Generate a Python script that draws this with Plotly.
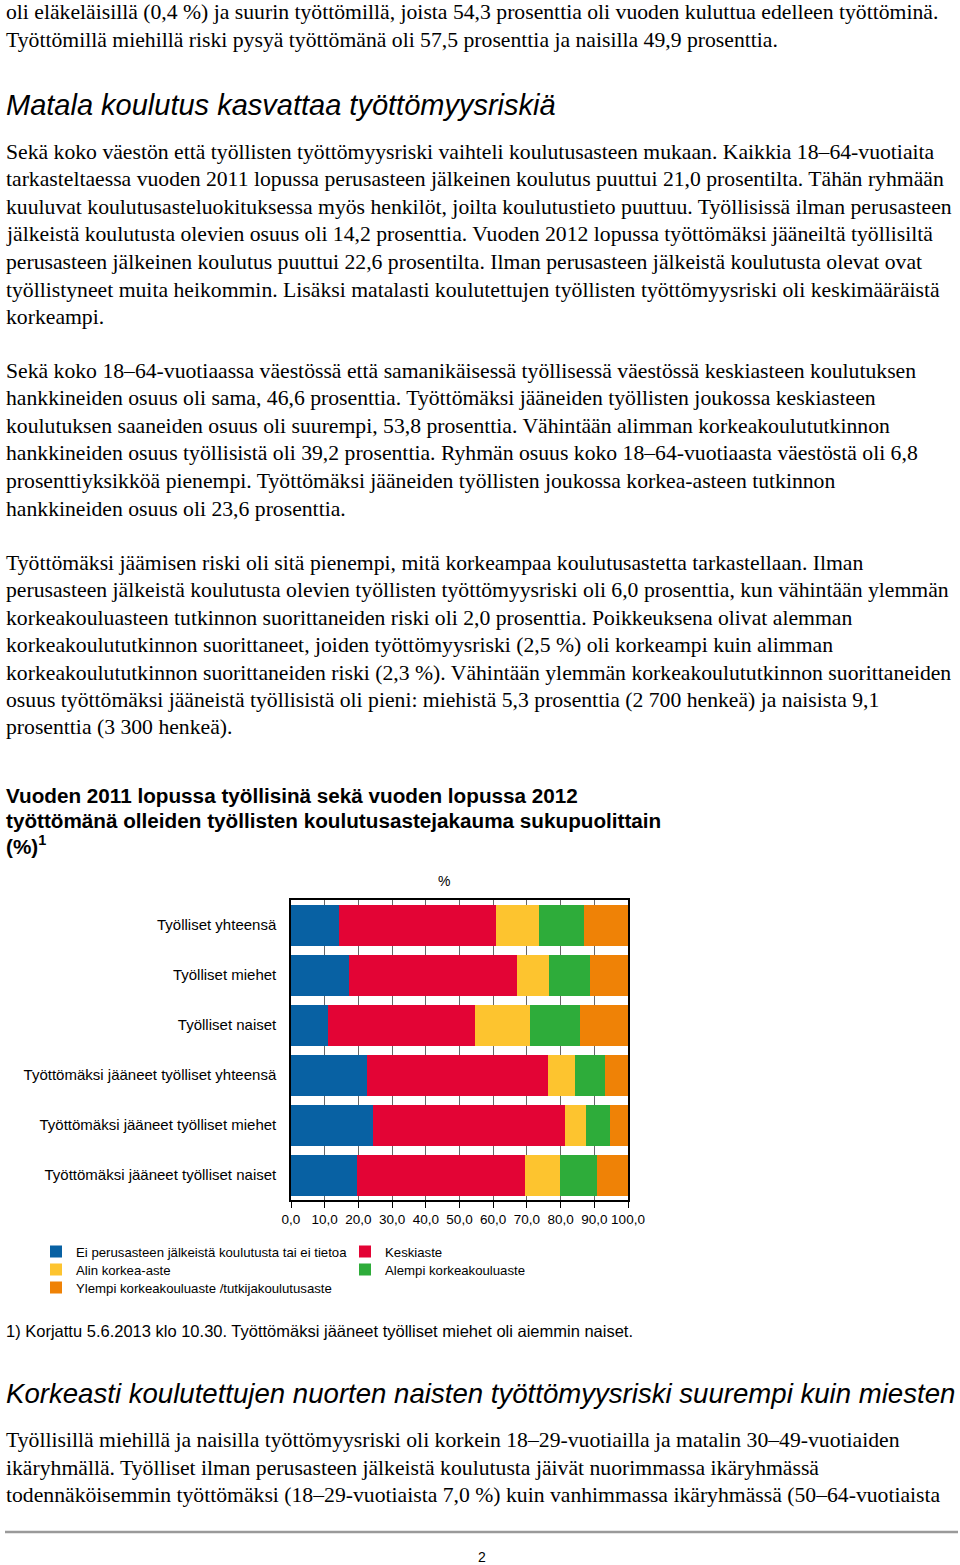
import plotly.graph_objects as go

W, H = 960, 1565

categories = [
    "Työlliset yhteensä",
    "Työlliset miehet",
    "Työlliset naiset",
    "Työttömäksi jääneet työlliset yhteensä",
    "Työttömäksi jääneet työlliset miehet",
    "Työttömäksi jääneet työlliset naiset",
]
series_names = [
    "Ei perusasteen jälkeistä koulutusta tai ei tietoa",
    "Keskiaste",
    "Alin korkea-aste",
    "Alempi korkeakouluaste",
    "Ylempi korkeakouluaste /tutkijakoulutusaste",
]
ei_perusasteen = [14.2, 17.1, 11.1, 22.6, 24.4, 19.5]
keskiaste = [46.6, 50.1, 43.5, 53.8, 56.9, 49.9]
alin_korkea = [12.9, 9.5, 16.2, 7.8, 6.3, 10.5]
alempi_kk = [13.2, 11.9, 15.0, 9.1, 7.1, 11.0]
ylempi_kk = [13.1, 11.4, 14.2, 6.7, 5.3, 9.1]
series_values = [ei_perusasteen, keskiaste, alin_korkea, alempi_kk, ylempi_kk]
colors = ["#0861A3", "#E30435", "#FDC42F", "#2EAC3A", "#EF8206"]
tick_vals = [0, 10, 20, 30, 40, 50, 60, 70, 80, 90, 100]
tick_text = ["0,0", "10,0", "20,0", "30,0", "40,0", "50,0", "60,0", "70,0", "80,0", "90,0", "100,0"]

top_lines = [
    "oli eläkeläisillä (0,4 %) ja suurin työttömillä, joista 54,3 prosenttia oli vuoden kuluttua edelleen työttöminä.",
    "Työttömillä miehillä riski pysyä työttömänä oli 57,5 prosenttia ja naisilla 49,9 prosenttia.",
]
heading1 = "Matala koulutus kasvattaa työttömyysriskiä"
para1 = [
    "Sekä koko väestön että työllisten työttömyysriski vaihteli koulutusasteen mukaan. Kaikkia 18–64-vuotiaita",
    "tarkasteltaessa vuoden 2011 lopussa perusasteen jälkeinen koulutus puuttui 21,0 prosentilta. Tähän ryhmään",
    "kuuluvat koulutusasteluokituksessa myös henkilöt, joilta koulutustieto puuttuu. Työllisissä ilman perusasteen",
    "jälkeistä koulutusta olevien osuus oli 14,2 prosenttia. Vuoden 2012 lopussa työttömäksi jääneiltä työllisiltä",
    "perusasteen jälkeinen koulutus puuttui 22,6 prosentilta. Ilman perusasteen jälkeistä koulutusta olevat ovat",
    "työllistyneet muita heikommin. Lisäksi matalasti koulutettujen työllisten työttömyysriski oli keskimääräistä",
    "korkeampi.",
]
para2 = [
    "Sekä koko 18–64-vuotiaassa väestössä että samanikäisessä työllisessä väestössä keskiasteen koulutuksen",
    "hankkineiden osuus oli sama, 46,6 prosenttia. Työttömäksi jääneiden työllisten joukossa keskiasteen",
    "koulutuksen saaneiden osuus oli suurempi, 53,8 prosenttia. Vähintään alimman korkeakoulututkinnon",
    "hankkineiden osuus työllisistä oli 39,2 prosenttia. Ryhmän osuus koko 18–64-vuotiaasta väestöstä oli 6,8",
    "prosenttiyksikköä pienempi. Työttömäksi jääneiden työllisten joukossa korkea-asteen tutkinnon",
    "hankkineiden osuus oli 23,6 prosenttia.",
]
para3 = [
    "Työttömäksi jäämisen riski oli sitä pienempi, mitä korkeampaa koulutusastetta tarkastellaan. Ilman",
    "perusasteen jälkeistä koulutusta olevien työllisten työttömyysriski oli 6,0 prosenttia, kun vähintään ylemmän",
    "korkeakouluasteen tutkinnon suorittaneiden riski oli 2,0 prosenttia. Poikkeuksena olivat alemman",
    "korkeakoulututkinnon suorittaneet, joiden työttömyysriski (2,5 %) oli korkeampi kuin alimman",
    "korkeakoulututkinnon suorittaneiden riski (2,3 %). Vähintään ylemmän korkeakoulututkinnon suorittaneiden",
    "osuus työttömäksi jääneistä työllisistä oli pieni: miehistä 5,3 prosenttia (2 700 henkeä) ja naisista 9,1",
    "prosenttia (3 300 henkeä).",
]
chart_title = [
    "Vuoden 2011 lopussa työllisinä sekä vuoden lopussa 2012",
    "työttömänä olleiden työllisten koulutusastejakauma sukupuolittain",
    "(%)<sup>1</sup>",
]
footnote = "1) Korjattu 5.6.2013 klo 10.30. Työttömäksi jääneet työlliset miehet oli aiemmin naiset."
heading2 = "Korkeasti koulutettujen nuorten naisten työttömyysriski suurempi kuin miesten"
para4 = [
    "Työllisillä miehillä ja naisilla työttömyysriski oli korkein 18–29-vuotiailla ja matalin 30–49-vuotiaiden",
    "ikäryhmällä. Työlliset ilman perusasteen jälkeistä koulutusta jäivät nuorimmassa ikäryhmässä",
    "todennäköisemmin työttömäksi (18–29-vuotiaista 7,0 %) kuin vanhimmassa ikäryhmässä (50–64-vuotiaista",
]

SERIF = "Liberation Serif, Times New Roman, serif"
SANS = "Liberation Sans, Arial, sans-serif"
NARROW = "Liberation Sans Narrow, Arial Narrow, Liberation Sans, sans-serif"


def px(x):
    return x / W


def py(y):
    return 1 - y / H


fig = go.Figure()
legend_names = ["legend", "legend2", "legend3", "legend4", "legend5"]
for name, vals, col, lg in zip(series_names, series_values, colors, legend_names):
    fig.add_trace(go.Bar(
        y=categories, x=vals, name=name, orientation="h",
        marker=dict(color=col, line=dict(width=0)),
        legend=lg,
    ))

annotations = []


def add_text(x, y, text, font, xanchor="left"):
    annotations.append(dict(
        x=px(x), y=py(y), xref="paper", yref="paper", text=text,
        showarrow=False, xanchor=xanchor, yanchor="middle", align="left",
        font=font,
    ))


body = dict(family=SERIF, size=21.7, color="#000")
for i, t in enumerate(top_lines):
    add_text(4, 12 + i * 27.6, t, body)
add_text(4, 105, heading1, dict(family=SANS, size=29, color="#000", style="italic"))
for i, t in enumerate(para1):
    add_text(4, 152 + i * 27.5, t, body)
for i, t in enumerate(para2):
    add_text(4, 371 + i * 27.5, t, body)
for i, t in enumerate(para3):
    add_text(4, 563 + i * 27.4, t, body)
for i, t in enumerate(chart_title):
    add_text(4, 795 + i * 25, "<b>" + t + "</b>", dict(family=SANS, size=20.7, color="#000"))
add_text(444, 881, "%", dict(family=NARROW, size=14, color="#000"), xanchor="center")
add_text(4, 1331, footnote, dict(family=SANS, size=16.5, color="#000"))
add_text(4, 1393, heading2, dict(family=SANS, size=27.6, color="#000", style="italic"))
for i, t in enumerate(para4):
    add_text(4, 1440 + i * 27.5, t, body)
add_text(482, 1557, "2", dict(family=SANS, size=14, color="#000"), xanchor="center")

legend_pos = [(36, 1252), (345, 1252), (36, 1270), (345, 1270), (36, 1288)]
legend_font = dict(family=NARROW, size=13.2, color="#000")
layout_legends = {}
for lg, (lx, ly) in zip(legend_names, legend_pos):
    layout_legends[lg] = dict(
        x=px(lx), y=py(ly), xanchor="left", yanchor="middle",
        orientation="h", font=legend_font, itemwidth=30,
        bgcolor="rgba(0,0,0,0)", borderwidth=0, tracegroupgap=0,
        itemclick=False, itemdoubleclick=False,
    )

fig.update_layout(
    width=W, height=H, autosize=False,
    margin=dict(l=0, r=0, t=0, b=0, pad=0, autoexpand=False),
    paper_bgcolor="white", plot_bgcolor="white",
    barmode="stack", bargap=0.18,
    showlegend=True,
    annotations=annotations,
    shapes=[dict(type="line", xref="paper", yref="paper",
                 x0=px(5), x1=px(958), y0=py(1532), y1=py(1532),
                 line=dict(color="#9a9a9a", width=2.5))],
    xaxis=dict(
        domain=[px(291), px(628)], range=[0, 100], automargin=False,
        tickvals=tick_vals, ticktext=tick_text, tickangle=0,
        tickfont=dict(family=NARROW, size=13.5, color="#000"),
        showgrid=True, gridcolor="#666666", gridwidth=1,
        showline=True, linecolor="#000", linewidth=1.5, mirror=True,
        ticks="outside", ticklen=6, tickcolor="#000", tickwidth=1,
        zeroline=False, fixedrange=True,
    ),
    yaxis=dict(
        domain=[py(1200), py(900)], automargin=False,
        autorange="reversed", categoryorder="array", categoryarray=categories,
        tickfont=dict(family=NARROW, size=15, color="#000"),
        showline=True, linecolor="#000", linewidth=1.5, mirror=True,
        ticks="", ticklabelstandoff=10, showgrid=False, fixedrange=True,
    ),
    **layout_legends,
)

fix_page = (
    "document.documentElement.style.margin='0';"
    "document.body.style.margin='0';document.body.style.padding='0';"
    "document.documentElement.style.overflow='hidden';"
    "document.body.style.overflow='hidden';"
    "window.dispatchEvent(new Event('resize'));"
)

fig.write_html("out.html", post_script=fix_page, config={"displayModeBar": False})
